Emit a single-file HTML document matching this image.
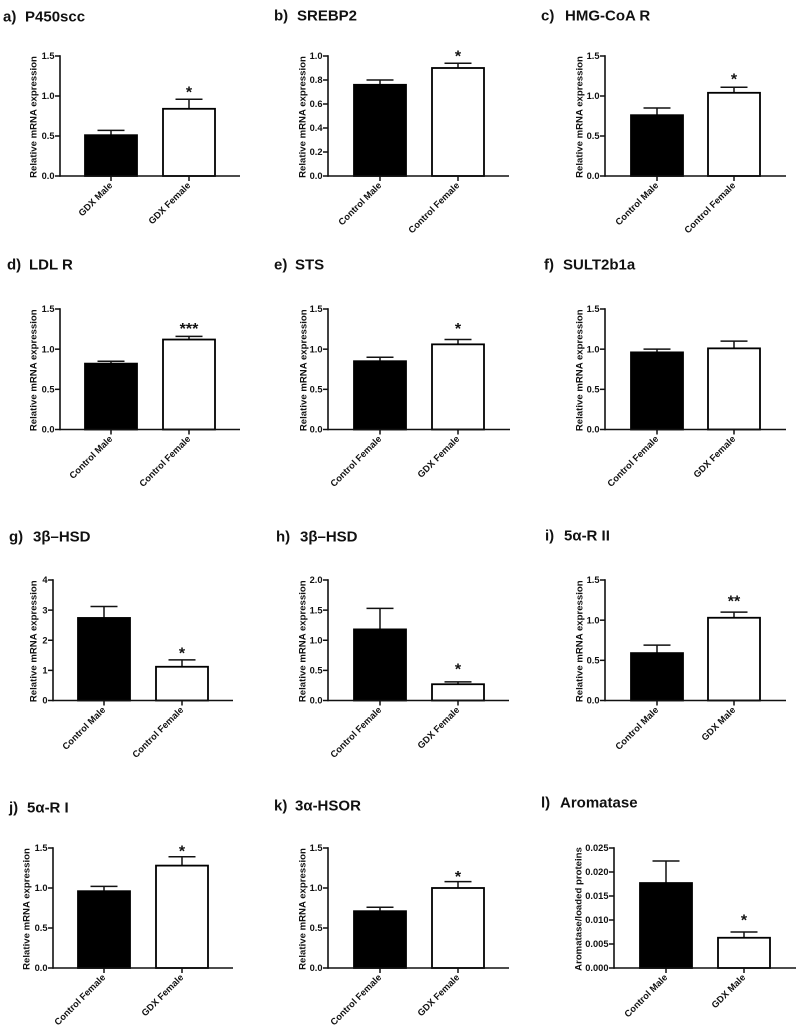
<!DOCTYPE html>
<html lang="en">
<head>
<meta charset="utf-8">
<title>mRNA expression bar charts</title>
<style>
html,body{margin:0;padding:0;background:#fff;width:796px;height:1032px;overflow:hidden}
svg{display:block;font-family:"Liberation Sans",Arial,sans-serif;font-weight:bold;fill:#111}
</style>
</head>
<body>
<svg id="figure" width="796" height="1032" viewBox="0 0 796 1032" xmlns="http://www.w3.org/2000/svg"></svg>
<script>
const panelLetters = ['a)','b)','c)','d)','e)','f)','g)','h)','i)','j)','k)','l)'];
const panelTitles = ['P450scc','SREBP2','HMG-CoA R','LDL R','STS','SULT2b1a','3β–HSD','3β–HSD','5α-R II','5α-R I','3α-HSOR','Aromatase'];
const yAxisTitles = ['Relative mRNA expression','Relative mRNA expression','Relative mRNA expression','Relative mRNA expression','Relative mRNA expression','Relative mRNA expression','Relative mRNA expression','Relative mRNA expression','Relative mRNA expression','Relative mRNA expression','Relative mRNA expression','Aromatase/loaded proteins'];
const categories = [
  ['GDX Male','GDX Female'],
  ['Control Male','Control Female'],
  ['Control Male','Control Female'],
  ['Control Male','Control Female'],
  ['Control Female','GDX Female'],
  ['Control Female','GDX Female'],
  ['Control Male','Control Female'],
  ['Control Female','GDX Female'],
  ['Control Male','GDX Male'],
  ['Control Female','GDX Female'],
  ['Control Female','GDX Female'],
  ['Control Male','GDX Male']
];
const means = [
  [0.51,0.84],[0.76,0.90],[0.76,1.04],[0.82,1.12],[0.85,1.06],[0.96,1.01],
  [2.74,1.12],[1.18,0.27],[0.59,1.03],[0.96,1.28],[0.71,1.00],[0.0177,0.0063]
];
const errorTops = [
  [0.57,0.96],[0.80,0.94],[0.85,1.11],[0.85,1.16],[0.90,1.12],[1.00,1.10],
  [3.12,1.35],[1.53,0.31],[0.69,1.10],[1.02,1.39],[0.76,1.08],[0.0223,0.0075]
];
const significance = ['*','*','*','***','*','','*','*','**','*','*','*'];
const tickLabels = [
  ['0.0','0.5','1.0','1.5'],
  ['0.0','0.2','0.4','0.6','0.8','1.0'],
  ['0.0','0.5','1.0','1.5'],
  ['0.0','0.5','1.0','1.5'],
  ['0.0','0.5','1.0','1.5'],
  ['0.0','0.5','1.0','1.5'],
  ['0','1','2','3','4'],
  ['0.0','0.5','1.0','1.5','2.0'],
  ['0.0','0.5','1.0','1.5'],
  ['0.0','0.5','1.0','1.5'],
  ['0.0','0.5','1.0','1.5'],
  ['0.000','0.005','0.010','0.015','0.020','0.025']
];

/* layout only: axis x, axis end, top, bottom, first bar x, second bar x, y-title x, letter x, title x, title centre y, star gap */
const frames = [
  {ax:60, end:240,top:56, bot:176,b1:85, b2:163,yt:33, lx:3,  tx:25, ty:16, gap:9},
  {ax:328,end:509,top:56, bot:176,b1:354,b2:432,yt:302,lx:274,tx:297,ty:15, gap:9},
  {ax:605,end:786,top:56, bot:176,b1:631,b2:708,yt:579,lx:541,tx:565,ty:15, gap:10},
  {ax:60, end:240,top:309,bot:429.5,b1:85, b2:163,yt:33, lx:7,  tx:29, ty:264,gap:10},
  {ax:328,end:510,top:309,bot:429.5,b1:354,b2:432,yt:303,lx:274,tx:295,ty:264,gap:13},
  {ax:605,end:786,top:309,bot:429.5,b1:631,b2:708,yt:579,lx:544,tx:563,ty:264,gap:10},
  {ax:53, end:233,top:580,bot:700.5,b1:78, b2:156,yt:33, lx:9,  tx:33, ty:536,gap:9},
  {ax:328,end:509,top:580,bot:700.5,b1:354,b2:432,yt:302,lx:276,tx:300,ty:536,gap:15},
  {ax:605,end:786,top:580,bot:700.5,b1:631,b2:708,yt:579,lx:545,tx:564,ty:535,gap:13},
  {ax:53, end:233,top:848,bot:968,b1:78, b2:156,yt:26, lx:9,  tx:27, ty:807,gap:8},
  {ax:328,end:509,top:848,bot:968,b1:354,b2:432,yt:302,lx:274,tx:295,ty:805,gap:7},
  {ax:614,end:796,top:848,bot:968,b1:640,b2:718,yt:578,lx:541,tx:560,ty:802,gap:14}
];

const NS = 'http://www.w3.org/2000/svg';
const figure = document.getElementById('figure');

function mk(tag, parent, attrs, text) {
  const el = document.createElementNS(NS, tag);
  for (const k in attrs) el.setAttribute(k, attrs[k]);
  if (text !== undefined) el.textContent = text;
  parent.appendChild(el);
  return el;
}

const BAR_W = 52;
const CAP = 13.5;

panelTitles.forEach(function (title, p) {
  const f = frames[p];
  const ticks = tickLabels[p];
  const yMax = parseFloat(ticks[ticks.length - 1]);
  const yScale = function (v) { return f.bot - (v / yMax) * (f.bot - f.top); };
  const barStarts = [f.b1, f.b2];

  const g = mk('g', figure, {});
  
  

  const letter = mk('text', g, {x: f.lx, y: f.ty + 5.5, 'font-size': 15}, panelLetters[p]);
  
  

  const head = mk('text', g, {x: f.tx, y: f.ty + 5.5, 'font-size': 15}, title);
  
  

  const yTitle = mk('text', g, {
    transform: 'translate(' + (f.yt + 3.5) + ',' + ((f.top + f.bot) / 2 + 1) + ') rotate(-90)',
    'text-anchor': 'middle', 'font-size': 9.6
  }, yAxisTitles[p]);
  
  

  means[p].forEach(function (m, i) {
    const x = barStarts[i];
    const cx = x + BAR_W / 2;
    const yTop = yScale(m);
    const yErr = yScale(errorTops[p][i]);

    const stem = mk('line', g, {x1: cx, x2: cx, y1: yTop, y2: yErr, stroke: '#111', 'stroke-width': 1.5});
    
    

    const cap = mk('line', g, {x1: cx - CAP, x2: cx + CAP, y1: yErr, y2: yErr, stroke: '#111', 'stroke-width': 1.5});
    
    

    const bar = mk('rect', g, {
      x: x, y: yTop, width: BAR_W, height: f.bot - yTop,
      fill: i === 0 ? '#000' : '#fff', stroke: '#000', 'stroke-width': 1.8
    });
    
    

    const xTick = mk('line', g, {x1: cx, x2: cx, y1: f.bot, y2: f.bot + 5, stroke: '#111', 'stroke-width': 1.5});
    
    

    const xLabel = mk('text', g, {
      transform: 'translate(' + (cx + 2) + ',' + (f.bot + 10) + ') rotate(-45)',
      'text-anchor': 'end', 'font-size': 9.3
    }, categories[p][i]);
    
    

    if (i === 1 && significance[p]) {
      const star = mk('text', g, {
        x: cx, y: yErr - f.gap + 7.5, 'text-anchor': 'middle', 'font-size': 16
      }, significance[p]);
      
      
    }
  });

  ticks.forEach(function (label) {
    const y = yScale(parseFloat(label));
    const tick = mk('line', g, {x1: f.ax - 5, x2: f.ax, y1: y, y2: y, stroke: '#111', 'stroke-width': 1.5});
    
    

    const tickText = mk('text', g, {x: f.ax - 5.5, y: y + 3.2, 'text-anchor': 'end', 'font-size': 9.3}, label);
    
    
  });

  const yAxis = mk('line', g, {x1: f.ax, x2: f.ax, y1: f.top - 0.8, y2: f.bot + 0.8, stroke: '#111', 'stroke-width': 1.6});
  
  

  const xAxis = mk('line', g, {x1: f.ax, x2: f.end, y1: f.bot, y2: f.bot, stroke: '#111', 'stroke-width': 1.6});
  
  
});
</script>
</body>
</html>
